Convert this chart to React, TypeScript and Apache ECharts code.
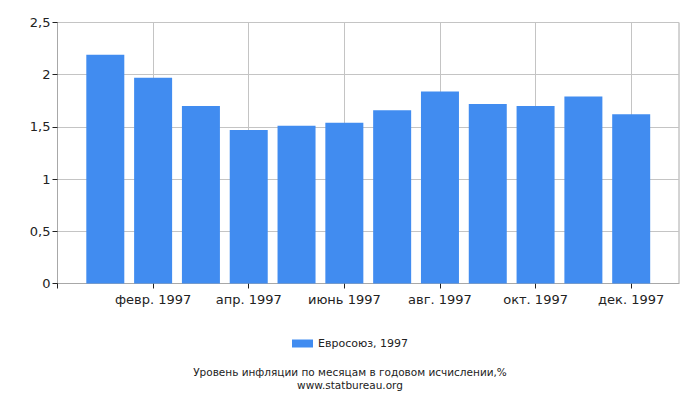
import React, { useEffect, useRef } from 'react';
import * as echarts from 'echarts';

// month index: 1 = Jan 1997 ... 12 = Dec 1997
const months = [1, 2, 3, 4, 5, 6, 7, 8, 9, 10, 11, 12];
const inflation = [2.19, 1.97, 1.7, 1.47, 1.51, 1.54, 1.66, 1.84, 1.72, 1.7, 1.79, 1.62];
const monthLabels: Record<number, string> = {
  2: 'февр. 1997',
  4: 'апр. 1997',
  6: 'июнь 1997',
  8: 'авг. 1997',
  10: 'окт. 1997',
  12: 'дек. 1997'
};
const tickValues = [0, 2, 4, 6, 8, 10, 12];
const seriesName = 'Евросоюз, 1997';
const chartTitle = 'Уровень инфляции по месяцам в годовом исчислении,%';
const siteName = 'www.statbureau.org';

const FONT = '"DejaVu Sans", sans-serif';

const App: React.FC = () => {
  const chartRef = useRef<HTMLDivElement>(null);

  useEffect(() => {
    if (!chartRef.current) return;
    const myChart = echarts.init(chartRef.current, null, { renderer: 'svg' });

    const option: any = {
      animation: false,
      textStyle: { fontFamily: FONT },
      grid: {
        left: 57.5,
        right: 21,
        top: 22.5,
        bottom: 116.5,
        show: true,
        borderColor: '#a8a8a8',
        borderWidth: 1,
        backgroundColor: 'transparent'
      },
      title: {
        text: chartTitle + '\n' + siteName,
        left: 'center',
        top: 361,
        textStyle: {
          fontFamily: FONT,
          fontSize: 10.5,
          fontWeight: 'normal',
          color: '#222',
          lineHeight: 12.5
        }
      },
      legend: {
        top: 333,
        left: 'center',
        itemWidth: 21,
        itemHeight: 8,
        icon: 'rect',
        textStyle: { fontFamily: FONT, fontSize: 11, color: '#222' },
        data: [seriesName]
      },
      xAxis: {
        type: 'value',
        min: 0,
        max: 13,
        interval: 2,
        axisLine: { show: true, lineStyle: { color: '#a8a8a8' } },
        axisTick: {
          show: true,
          length: 5,
          lineStyle: { color: '#222' },
          customValues: tickValues
        },
        axisLabel: {
          fontFamily: FONT,
          fontSize: 13,
          color: '#222',
          margin: 9,
          customValues: tickValues.filter((v) => monthLabels[v]),
          formatter: (v: number) => monthLabels[v] || ''
        },
        splitLine: { show: true, lineStyle: { color: '#c4c4c4' } }
      },
      yAxis: {
        type: 'value',
        min: 0,
        max: 2.5,
        interval: 0.5,
        axisLine: { show: true, lineStyle: { color: '#a8a8a8' } },
        axisTick: { show: true, length: 5, lineStyle: { color: '#222' } },
        axisLabel: {
          fontFamily: FONT,
          fontSize: 13,
          color: '#222',
          margin: 7,
          formatter: (v: number) => String(v).replace('.', ',')
        },
        splitLine: { show: true, lineStyle: { color: '#c4c4c4' } }
      },
      series: [
        {
          name: seriesName,
          type: 'bar',
          barWidth: 38,
          itemStyle: { color: '#418cf0' },
          data: months.map((m, i) => [m, inflation[i]])
        }
      ]
    };

    myChart.setOption(option);

    return () => {
      myChart.dispose();
    };
  }, []);

  return <div ref={chartRef} style={{ width: '700px', height: '400px', margin: '-8px' }} />;
};

export default App;
